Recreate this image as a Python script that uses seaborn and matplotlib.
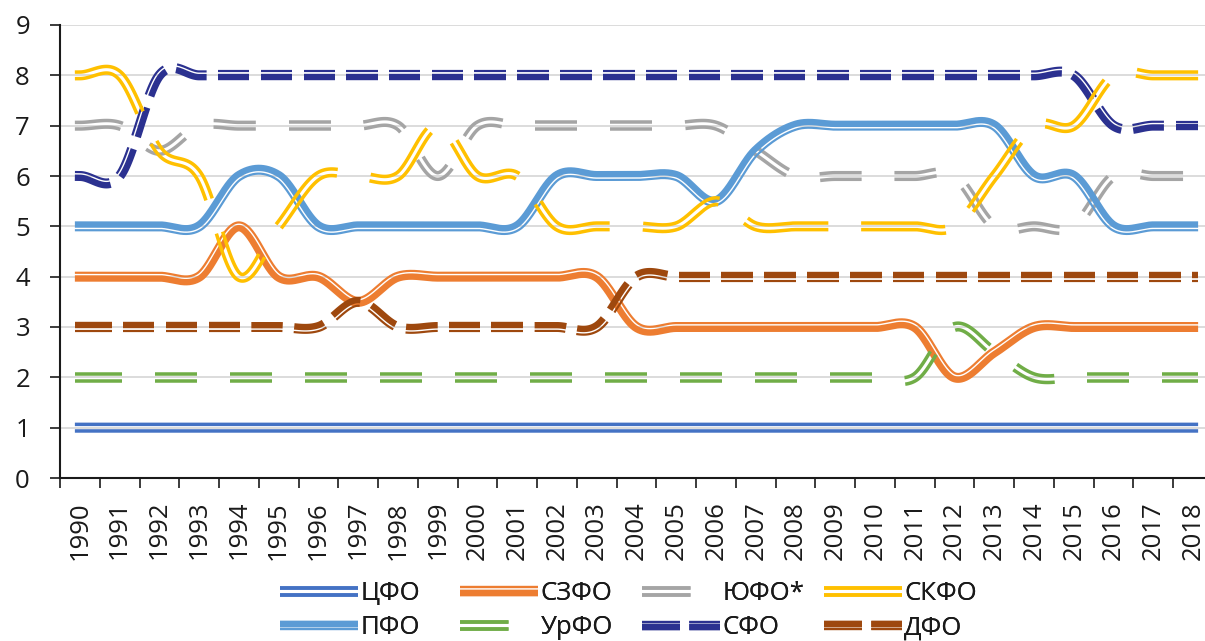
import numpy as np
import pandas as pd
import matplotlib
matplotlib.use("Agg")
import matplotlib.pyplot as plt
import seaborn as sns
from matplotlib.lines import Line2D

years = [1990, 1991, 1992, 1993, 1994, 1995, 1996, 1997, 1998, 1999,
         2000, 2001, 2002, 2003, 2004, 2005, 2006, 2007, 2008, 2009,
         2010, 2011, 2012, 2013, 2014, 2015, 2016, 2017, 2018]

names = ["ЦФО", "СЗФО", "ЮФО*", "СКФО", "ПФО", "УрФО", "СФО", "ДФО"]

# rank of each federal district by year (ties averaged)
cfo = [1, 1, 1, 1, 1, 1, 1, 1, 1, 1,
       1, 1, 1, 1, 1, 1, 1, 1, 1, 1,
       1, 1, 1, 1, 1, 1, 1, 1, 1]
szfo = [4, 4, 4, 4, 5, 4, 4, 3.5, 4, 4,
        4, 4, 4, 4, 3, 3, 3, 3, 3, 3,
        3, 3, 2, 2.5, 3, 3, 3, 3, 3]
yufo = [7, 7, 6.5, 7, 7, 7, 7, 7, 7, 6,
        7, 7, 7, 7, 7, 7, 7, 6.5, 6, 6,
        6, 6, 6, 5, 5, 5, 6, 6, 6]
skfo = [8, 8, 6.5, 6, 4, 5, 6, 6, 6, 7,
        6, 6, 5, 5, 5, 5, 5.5, 5, 5, 5,
        5, 5, 5, 6, 7, 7, 8, 8, 8]
pfo = [5, 5, 5, 5, 6, 6, 5, 5, 5, 5,
       5, 5, 6, 6, 6, 6, 5.5, 6.5, 7, 7,
       7, 7, 7, 7, 6, 6, 5, 5, 5]
urfo = [2, 2, 2, 2, 2, 2, 2, 2, 2, 2,
        2, 2, 2, 2, 2, 2, 2, 2, 2, 2,
        2, 2, 3, 2.5, 2, 2, 2, 2, 2]
sfo = [6, 6, 8, 8, 8, 8, 8, 8, 8, 8,
       8, 8, 8, 8, 8, 8, 8, 8, 8, 8,
       8, 8, 8, 8, 8, 8, 7, 7, 7]
dfo = [3, 3, 3, 3, 3, 3, 3, 3.5, 3, 3,
       3, 3, 3, 3, 4, 4, 4, 4, 4, 4,
       4, 4, 4, 4, 4, 4, 4, 4, 4]

series = [cfo, szfo, yufo, skfo, pfo, urfo, sfo, dfo]

PT = 72 / 100  # points per pixel at dpi 100

# compound line bands: (offset from centre, width), pixels
DOUBLE = [(3.3, 3.5), (-3.3, 3.5)]
THICK_TOP = [(1.8, 6.4), (-3.9, 2.2)]
THIN_TOP = [(3.9, 2.2), (-1.8, 6.4)]

# dash patterns (on, off), pixels
DASH = (42.5, 32.5)
LONG_DASH = (85, 32.5)
SYS_DASH = (32, 10.8)

colors = ["#4472C4", "#ED7D31", "#A5A5A5", "#FFC000",
          "#5B9BD5", "#70AD47", "#2B3190", "#9E480E"]
bands = [DOUBLE, THIN_TOP, DOUBLE, DOUBLE, THICK_TOP, DOUBLE, THIN_TOP, THICK_TOP]
dashes = [None, None, DASH, LONG_DASH, None, DASH, SYS_DASH, SYS_DASH]
zorders = [2, 3, 4, 8, 5, 6, 7, 9]

# legend columns: left edge of the sample (px) and the two entries in it
legend_cols = [(280, [0, 4]), (460, [1, 5]), (642, [2, 6]), (824, [3, 7])]


class Band:
    def __init__(self, color, bands, dash):
        self.color = color
        self.bands = bands
        self.dash = dash


class BandHandler:
    def legend_artist(self, legend, orig_handle, fontsize, handlebox):
        x0, y0 = handlebox.xdescent, handlebox.ydescent
        w, h = handlebox.width, handlebox.height
        yc = (h - y0) / 2
        art = None
        for off, width in orig_handle.bands:
            if orig_handle.dash is None:
                ls = "-"
            else:
                on, gap = orig_handle.dash
                ls = (0, ((on + 6) * PT, (gap - 1.5) * PT))
            art = Line2D([-x0, -x0 + w], [yc + off * PT, yc + off * PT],
                         color=orig_handle.color, lw=width * PT, linestyle=ls,
                         solid_capstyle="butt", dash_capstyle="butt")
            handlebox.add_artist(art)
        return art


def smooth_curve(y, n=80):
    # Catmull-Rom style smoothing like Excel's "smoothed line"
    y = np.asarray(y, dtype=float)
    xs, ys = [], []
    last = len(y) - 2
    for i in range(len(y) - 1):
        y0 = y[i - 1] if i > 0 else y[i]
        y3 = y[i + 2] if i + 2 < len(y) else y[i + 1]
        y1, y2 = y[i], y[i + 1]
        c1 = y1 + (y2 - y0) / 6
        c2 = y2 - (y3 - y1) / 6
        t = np.linspace(0, 1, n, endpoint=(i == last))
        ys.append((1 - t) ** 3 * y1 + 3 * (1 - t) ** 2 * t * c1
                  + 3 * (1 - t) * t ** 2 * c2 + t ** 3 * y2)
        xs.append(i + t)
    return np.concatenate(xs), np.concatenate(ys)


def draw_series(ax, values, color, band_list, dash, z):
    xs, ys = smooth_curve(values)
    P = ax.transData.transform(np.column_stack([xs, ys]))
    half = 5.0
    d0 = (P[1] - P[0]) / np.hypot(*(P[1] - P[0]))
    d1 = (P[-1] - P[-2]) / np.hypot(*(P[-1] - P[-2]))
    P = np.vstack([P[0] - d0 * half, P, P[-1] + d1 * half])
    s = np.concatenate([[0], np.cumsum(np.hypot(*np.diff(P, axis=0).T))]) - half

    T = np.gradient(P, axis=0)
    T /= np.hypot(T[:, 0], T[:, 1])[:, None]
    N = np.column_stack([-T[:, 1], T[:, 0]])

    if dash is None:
        mask = np.ones(len(s), dtype=bool)
    else:
        on, gap = dash
        mask = ((s % (on + gap)) < on) | (s < 0)
    edges = np.flatnonzero(np.diff(np.r_[0, mask.astype(int), 0]))
    runs = list(zip(edges[::2], edges[1::2]))

    inv = ax.transData.inverted()
    for off, width in band_list:
        D = inv.transform(P + N * off)
        parts = []
        for k, (a, b) in enumerate(runs):
            if b - a < 2:
                continue
            parts.append(pd.DataFrame({"x": D[a:b, 0], "y": D[a:b, 1], "unit": k}))
        df = pd.concat(parts, ignore_index=True)
        sns.lineplot(data=df, x="x", y="y", units="unit", estimator=None,
                     sort=False, color=color, lw=width * PT, legend=False,
                     solid_capstyle="butt", zorder=z, ax=ax)


sns.set_theme(style="white")
plt.rcParams["font.family"] = ["Open Sans", "DejaVu Sans"]
plt.rcParams["lines.scale_dashes"] = False

fig = plt.figure(figsize=(12.05, 6.41), dpi=100)
ax = fig.add_axes([60 / 1205, (641 - 478) / 641, (1213 - 60) / 1205, (478 - 25) / 641])
ax.set_xlim(-0.5, len(years) - 0.5)
ax.set_ylim(0, 9)

for vals, col, bl, dsh, z in zip(series, colors, bands, dashes, zorders):
    draw_series(ax, vals, col, bl, dsh, z)

ax.set_xlim(-0.5, len(years) - 0.5)
ax.set_ylim(0, 9)
ax.set_xlabel("")
ax.set_ylabel("")

ax.yaxis.grid(True, color="#D9D9D9", lw=1.3)
ax.set_axisbelow(True)
for side in ["top", "right"]:
    ax.spines[side].set_visible(False)
for side in ["left", "bottom"]:
    ax.spines[side].set_color("#1a1a1a")
    ax.spines[side].set_linewidth(1.5)

ax.set_yticks(range(10))
ax.set_xticks(range(len(years)))
ax.set_xticklabels([str(y) for y in years], rotation=90)
ax.set_xticks(np.arange(-0.5, len(years), 1), minor=True)
ax.tick_params(axis="both", which="both", bottom=True, left=True,
               color="#1a1a1a", width=1.2, labelcolor="#1a1a1a", labelsize=18.5)
ax.tick_params(axis="x", which="major", length=0, pad=16.5)
ax.tick_params(axis="x", which="minor", length=7.2)
ax.tick_params(axis="y", which="major", length=7.2, pad=14.4)

handles = [Band(c, b, d) for c, b, d in zip(colors, bands, dashes)]
for col_x, idx in legend_cols:
    leg = fig.legend([handles[i] for i in idx], [names[i] for i in idx],
                     handler_map={Band: BandHandler()}, ncol=1,
                     loc="center left", bbox_to_anchor=(col_x / 1205, 0.047),
                     frameon=False, fontsize=18.5, handlelength=56 / 18.5,
                     handletextpad=0.1, labelspacing=0.36,
                     borderpad=0, borderaxespad=0, labelcolor="#1a1a1a")
    fig.add_artist(leg)

fig.savefig("out.png", dpi=100, facecolor="white")
